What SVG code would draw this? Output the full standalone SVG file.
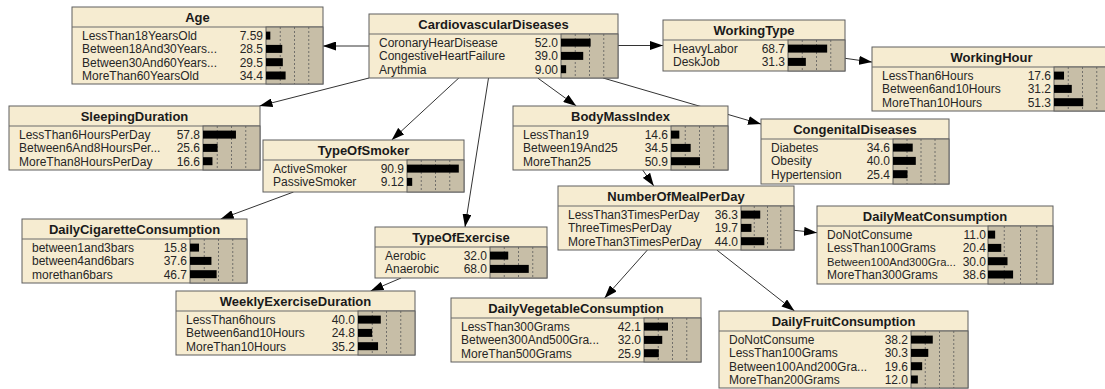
<svg xmlns="http://www.w3.org/2000/svg" width="1105" height="389" viewBox="0 0 1105 389">
  <defs>
    <style>
      .box { fill: #F6ECD1; stroke: #5E5E5E; stroke-width: 1; }
      .sep { stroke: #6A6A6A; stroke-width: 1; }
      .panel { fill: #C7BEA7; stroke: #5E5E5E; stroke-width: 1; }
      .grid { stroke: #5A5A5A; stroke-width: 0.8; stroke-dasharray: 2 2; }
      .bar { fill: #000000; }
      .title { font-family: "Liberation Sans", Arial, sans-serif; font-size: 13px; font-weight: bold; fill: #1A1A1A; text-anchor: middle; }
      .lbl { font-family: "Liberation Sans", Arial, sans-serif; font-size: 12px; fill: #262626; }
      .lbl.narrow { font-size: 11.2px; }
      .val { font-family: "Liberation Sans", Arial, sans-serif; font-size: 12px; fill: #262626; text-anchor: end; }
      .edge { stroke: #333333; stroke-width: 1; fill: none; marker-end: url(#arrow); }
    </style>
    <marker id="arrow" markerUnits="userSpaceOnUse" markerWidth="13" markerHeight="9" refX="13" refY="4.5" orient="auto">
      <path d="M0,0 L13,4.5 L0,9 z" fill="#000000"/>
    </marker>
  </defs>
  <rect width="1105" height="389" fill="#FFFFFF"/>

  <!-- links between nodes, drawn centre to centre and clipped at the boxes -->
  <g id="connectors">
    <line class="edge" x1="369" y1="46" x2="323" y2="46"/>
    <line class="edge" x1="618" y1="45.5" x2="663" y2="45.5"/>
    <line class="edge" x1="845" y1="58.3" x2="872" y2="62.1"/>
    <line class="edge" x1="369" y1="78" x2="259.5" y2="106"/>
    <line class="edge" x1="458.8" y1="78" x2="391.7" y2="140"/>
    <line class="edge" x1="488.5" y1="78" x2="465" y2="227"/>
    <line class="edge" x1="537.7" y1="78" x2="576.3" y2="106"/>
    <line class="edge" x1="603.1" y1="78" x2="761" y2="124.1"/>
    <line class="edge" x1="293.5" y1="192" x2="220.7" y2="219"/>
    <line class="edge" x1="401.1" y1="278" x2="370.6" y2="291"/>
    <line class="edge" x1="642.7" y1="170" x2="653.8" y2="186"/>
    <line class="edge" x1="794" y1="230.3" x2="817" y2="232.7"/>
    <line class="edge" x1="647.4" y1="250" x2="604.6" y2="298"/>
    <line class="edge" x1="716.8" y1="250" x2="794.5" y2="311"/>
  </g>

  <!-- Age -->
  <g id="age" transform="translate(72,7)">
    <rect class="box" width="251" height="77"/>
    <line class="sep" x1="0" y1="20" x2="251" y2="20"/>
    <rect class="panel" x="194" y="20" width="57" height="57"/>
    <line class="grid" x1="208.25" y1="20" x2="208.25" y2="77"/>
    <line class="grid" x1="222.5" y1="20" x2="222.5" y2="77"/>
    <line class="grid" x1="236.75" y1="20" x2="236.75" y2="77"/>
    <text class="title" x="125.5" y="14.5">Age</text>
    <text class="lbl" x="10" y="33.1">LessThan18YearsOld</text>
    <text class="lbl" x="10" y="46.4">Between18And30Years...</text>
    <text class="lbl" x="10" y="59.7">Between30And60Years...</text>
    <text class="lbl" x="10" y="73">MoreThan60YearsOld</text>
    <text class="val" x="191" y="33.1">7.59</text>
    <text class="val" x="191" y="46.4">28.5</text>
    <text class="val" x="191" y="59.7">29.5</text>
    <text class="val" x="191" y="73">34.4</text>
    <rect class="bar" x="194" y="24.6" width="4.33" height="8"/>
    <rect class="bar" x="194" y="37.9" width="16.25" height="8"/>
    <rect class="bar" x="194" y="51.2" width="16.82" height="8"/>
    <rect class="bar" x="194" y="64.5" width="19.61" height="8"/>
  </g>

  <!-- CardiovascularDiseases -->
  <g id="cardiovascular-diseases" transform="translate(369,14)">
    <rect class="box" width="249" height="64"/>
    <line class="sep" x1="0" y1="20" x2="249" y2="20"/>
    <rect class="panel" x="192" y="20" width="57" height="44"/>
    <line class="grid" x1="206.25" y1="20" x2="206.25" y2="64"/>
    <line class="grid" x1="220.5" y1="20" x2="220.5" y2="64"/>
    <line class="grid" x1="234.75" y1="20" x2="234.75" y2="64"/>
    <text class="title" x="124.5" y="14.5">CardiovascularDiseases</text>
    <text class="lbl" x="10" y="33.1">CoronaryHearDisease</text>
    <text class="lbl" x="10" y="46.4">CongestiveHeartFailure</text>
    <text class="lbl" x="10" y="59.7">Arythmia</text>
    <text class="val" x="189" y="33.1">52.0</text>
    <text class="val" x="189" y="46.4">39.0</text>
    <text class="val" x="189" y="59.7">9.00</text>
    <rect class="bar" x="192" y="24.6" width="29.64" height="8"/>
    <rect class="bar" x="192" y="37.9" width="22.23" height="8"/>
    <rect class="bar" x="192" y="51.2" width="5.13" height="8"/>
  </g>

  <!-- WorkingType -->
  <g id="working-type" transform="translate(663,20)">
    <rect class="box" width="182" height="51"/>
    <line class="sep" x1="0" y1="20" x2="182" y2="20"/>
    <rect class="panel" x="125" y="20" width="57" height="31"/>
    <line class="grid" x1="139.25" y1="20" x2="139.25" y2="51"/>
    <line class="grid" x1="153.5" y1="20" x2="153.5" y2="51"/>
    <line class="grid" x1="167.75" y1="20" x2="167.75" y2="51"/>
    <text class="title" x="91" y="14.5">WorkingType</text>
    <text class="lbl" x="10" y="33.1">HeavyLabor</text>
    <text class="lbl" x="10" y="46.4">DeskJob</text>
    <text class="val" x="122" y="33.1">68.7</text>
    <text class="val" x="122" y="46.4">31.3</text>
    <rect class="bar" x="125" y="24.6" width="39.16" height="8"/>
    <rect class="bar" x="125" y="37.9" width="17.84" height="8"/>
  </g>

  <!-- WorkingHour -->
  <g id="working-hour" transform="translate(872,47)">
    <rect class="box" width="239" height="64"/>
    <line class="sep" x1="0" y1="20" x2="239" y2="20"/>
    <rect class="panel" x="182" y="20" width="57" height="44"/>
    <line class="grid" x1="196.25" y1="20" x2="196.25" y2="64"/>
    <line class="grid" x1="210.5" y1="20" x2="210.5" y2="64"/>
    <line class="grid" x1="224.75" y1="20" x2="224.75" y2="64"/>
    <text class="title" x="119.5" y="14.5">WorkingHour</text>
    <text class="lbl" x="10" y="33.1">LessThan6Hours</text>
    <text class="lbl" x="10" y="46.4">Between6and10Hours</text>
    <text class="lbl" x="10" y="59.7">MoreThan10Hours</text>
    <text class="val" x="179" y="33.1">17.6</text>
    <text class="val" x="179" y="46.4">31.2</text>
    <text class="val" x="179" y="59.7">51.3</text>
    <rect class="bar" x="182" y="24.6" width="10.03" height="8"/>
    <rect class="bar" x="182" y="37.9" width="17.78" height="8"/>
    <rect class="bar" x="182" y="51.2" width="29.24" height="8"/>
  </g>

  <!-- SleepingDuration -->
  <g id="sleeping-duration" transform="translate(9,106)">
    <rect class="box" width="251" height="64"/>
    <line class="sep" x1="0" y1="20" x2="251" y2="20"/>
    <rect class="panel" x="194" y="20" width="57" height="44"/>
    <line class="grid" x1="208.25" y1="20" x2="208.25" y2="64"/>
    <line class="grid" x1="222.5" y1="20" x2="222.5" y2="64"/>
    <line class="grid" x1="236.75" y1="20" x2="236.75" y2="64"/>
    <text class="title" x="125.5" y="14.5">SleepingDuration</text>
    <text class="lbl" x="10" y="33.1">LessThan6HoursPerDay</text>
    <text class="lbl" x="10" y="46.4">Between6And8HoursPer...</text>
    <text class="lbl" x="10" y="59.7">MoreThan8HoursPerDay</text>
    <text class="val" x="191" y="33.1">57.8</text>
    <text class="val" x="191" y="46.4">25.6</text>
    <text class="val" x="191" y="59.7">16.6</text>
    <rect class="bar" x="194" y="24.6" width="32.95" height="8"/>
    <rect class="bar" x="194" y="37.9" width="14.59" height="8"/>
    <rect class="bar" x="194" y="51.2" width="9.46" height="8"/>
  </g>

  <!-- TypeOfSmoker -->
  <g id="type-of-smoker" transform="translate(263,140)">
    <rect class="box" width="201" height="52"/>
    <line class="sep" x1="0" y1="20" x2="201" y2="20"/>
    <rect class="panel" x="144" y="20" width="57" height="32"/>
    <line class="grid" x1="158.25" y1="20" x2="158.25" y2="52"/>
    <line class="grid" x1="172.5" y1="20" x2="172.5" y2="52"/>
    <line class="grid" x1="186.75" y1="20" x2="186.75" y2="52"/>
    <text class="title" x="100.5" y="14.5">TypeOfSmoker</text>
    <text class="lbl" x="10" y="33.1">ActiveSmoker</text>
    <text class="lbl" x="10" y="46.4">PassiveSmoker</text>
    <text class="val" x="141" y="33.1">90.9</text>
    <text class="val" x="141" y="46.4">9.12</text>
    <rect class="bar" x="144" y="24.6" width="51.81" height="8"/>
    <rect class="bar" x="144" y="37.9" width="5.2" height="8"/>
  </g>

  <!-- BodyMassIndex -->
  <g id="body-mass-index" transform="translate(513,106)">
    <rect class="box" width="215" height="64"/>
    <line class="sep" x1="0" y1="20" x2="215" y2="20"/>
    <rect class="panel" x="158" y="20" width="57" height="44"/>
    <line class="grid" x1="172.25" y1="20" x2="172.25" y2="64"/>
    <line class="grid" x1="186.5" y1="20" x2="186.5" y2="64"/>
    <line class="grid" x1="200.75" y1="20" x2="200.75" y2="64"/>
    <text class="title" x="107.5" y="14.5">BodyMassIndex</text>
    <text class="lbl" x="10" y="33.1">LessThan19</text>
    <text class="lbl" x="10" y="46.4">Between19And25</text>
    <text class="lbl" x="10" y="59.7">MoreThan25</text>
    <text class="val" x="155" y="33.1">14.6</text>
    <text class="val" x="155" y="46.4">34.5</text>
    <text class="val" x="155" y="59.7">50.9</text>
    <rect class="bar" x="158" y="24.6" width="8.32" height="8"/>
    <rect class="bar" x="158" y="37.9" width="19.67" height="8"/>
    <rect class="bar" x="158" y="51.2" width="29.01" height="8"/>
  </g>

  <!-- CongenitalDiseases -->
  <g id="congenital-diseases" transform="translate(761,119)">
    <rect class="box" width="188" height="65"/>
    <line class="sep" x1="0" y1="20" x2="188" y2="20"/>
    <rect class="panel" x="132" y="20" width="56" height="45"/>
    <line class="grid" x1="146" y1="20" x2="146" y2="65"/>
    <line class="grid" x1="160" y1="20" x2="160" y2="65"/>
    <line class="grid" x1="174" y1="20" x2="174" y2="65"/>
    <text class="title" x="94" y="14.5">CongenitalDiseases</text>
    <text class="lbl" x="10" y="33.1">Diabetes</text>
    <text class="lbl" x="10" y="46.4">Obesity</text>
    <text class="lbl" x="10" y="59.7">Hypertension</text>
    <text class="val" x="129" y="33.1">34.6</text>
    <text class="val" x="129" y="46.4">40.0</text>
    <text class="val" x="129" y="59.7">25.4</text>
    <rect class="bar" x="132" y="24.6" width="19.72" height="8"/>
    <rect class="bar" x="132" y="37.9" width="22.8" height="8"/>
    <rect class="bar" x="132" y="51.2" width="14.48" height="8"/>
  </g>

  <!-- DailyCigaretteConsumption -->
  <g id="daily-cigarette-consumption" transform="translate(22,219)">
    <rect class="box" width="225" height="64"/>
    <line class="sep" x1="0" y1="20" x2="225" y2="20"/>
    <rect class="panel" x="168" y="20" width="57" height="44"/>
    <line class="grid" x1="182.25" y1="20" x2="182.25" y2="64"/>
    <line class="grid" x1="196.5" y1="20" x2="196.5" y2="64"/>
    <line class="grid" x1="210.75" y1="20" x2="210.75" y2="64"/>
    <text class="title" x="112.5" y="14.5">DailyCigaretteConsumption</text>
    <text class="lbl" x="10" y="33.1">between1and3bars</text>
    <text class="lbl" x="10" y="46.4">between4and6bars</text>
    <text class="lbl" x="10" y="59.7">morethan6bars</text>
    <text class="val" x="165" y="33.1">15.8</text>
    <text class="val" x="165" y="46.4">37.6</text>
    <text class="val" x="165" y="59.7">46.7</text>
    <rect class="bar" x="168" y="24.6" width="9.01" height="8"/>
    <rect class="bar" x="168" y="37.9" width="21.43" height="8"/>
    <rect class="bar" x="168" y="51.2" width="26.62" height="8"/>
  </g>

  <!-- TypeOfExercise -->
  <g id="type-of-exercise" transform="translate(375,227)">
    <rect class="box" width="172" height="51"/>
    <line class="sep" x1="0" y1="20" x2="172" y2="20"/>
    <rect class="panel" x="115" y="20" width="57" height="31"/>
    <line class="grid" x1="129.25" y1="20" x2="129.25" y2="51"/>
    <line class="grid" x1="143.5" y1="20" x2="143.5" y2="51"/>
    <line class="grid" x1="157.75" y1="20" x2="157.75" y2="51"/>
    <text class="title" x="86" y="14.5">TypeOfExercise</text>
    <text class="lbl" x="10" y="33.1">Aerobic</text>
    <text class="lbl" x="10" y="46.4">Anaerobic</text>
    <text class="val" x="112" y="33.1">32.0</text>
    <text class="val" x="112" y="46.4">68.0</text>
    <rect class="bar" x="115" y="24.6" width="18.24" height="8"/>
    <rect class="bar" x="115" y="37.9" width="38.76" height="8"/>
  </g>

  <!-- WeeklyExerciseDuration -->
  <g id="weekly-exercise-duration" transform="translate(176,291)">
    <rect class="box" width="239" height="64"/>
    <line class="sep" x1="0" y1="20" x2="239" y2="20"/>
    <rect class="panel" x="182" y="20" width="57" height="44"/>
    <line class="grid" x1="196.25" y1="20" x2="196.25" y2="64"/>
    <line class="grid" x1="210.5" y1="20" x2="210.5" y2="64"/>
    <line class="grid" x1="224.75" y1="20" x2="224.75" y2="64"/>
    <text class="title" x="119.5" y="14.5">WeeklyExerciseDuration</text>
    <text class="lbl" x="10" y="33.1">LessThan6hours</text>
    <text class="lbl" x="10" y="46.4">Between6and10Hours</text>
    <text class="lbl" x="10" y="59.7">MoreThan10Hours</text>
    <text class="val" x="179" y="33.1">40.0</text>
    <text class="val" x="179" y="46.4">24.8</text>
    <text class="val" x="179" y="59.7">35.2</text>
    <rect class="bar" x="182" y="24.6" width="22.8" height="8"/>
    <rect class="bar" x="182" y="37.9" width="14.14" height="8"/>
    <rect class="bar" x="182" y="51.2" width="20.06" height="8"/>
  </g>

  <!-- NumberOfMealPerDay -->
  <g id="number-of-meal-per-day" transform="translate(558,186)">
    <rect class="box" width="236" height="64"/>
    <line class="sep" x1="0" y1="20" x2="236" y2="20"/>
    <rect class="panel" x="183" y="20" width="53" height="44"/>
    <line class="grid" x1="196.25" y1="20" x2="196.25" y2="64"/>
    <line class="grid" x1="209.5" y1="20" x2="209.5" y2="64"/>
    <line class="grid" x1="222.75" y1="20" x2="222.75" y2="64"/>
    <text class="title" x="118" y="14.5">NumberOfMealPerDay</text>
    <text class="lbl" x="10" y="33.1">LessThan3TimesPerDay</text>
    <text class="lbl" x="10" y="46.4">ThreeTimesPerDay</text>
    <text class="lbl" x="10" y="59.7">MoreThan3TimesPerDay</text>
    <text class="val" x="180" y="33.1">36.3</text>
    <text class="val" x="180" y="46.4">19.7</text>
    <text class="val" x="180" y="59.7">44.0</text>
    <rect class="bar" x="183" y="24.6" width="19.24" height="8"/>
    <rect class="bar" x="183" y="37.9" width="10.44" height="8"/>
    <rect class="bar" x="183" y="51.2" width="23.32" height="8"/>
  </g>

  <!-- DailyMeatConsumption -->
  <g id="daily-meat-consumption" transform="translate(817,206)">
    <rect class="box" width="236" height="78"/>
    <line class="sep" x1="0" y1="20" x2="236" y2="20"/>
    <rect class="panel" x="171" y="20" width="65" height="58"/>
    <line class="grid" x1="187.25" y1="20" x2="187.25" y2="78"/>
    <line class="grid" x1="203.5" y1="20" x2="203.5" y2="78"/>
    <line class="grid" x1="219.75" y1="20" x2="219.75" y2="78"/>
    <text class="title" x="118" y="14.5">DailyMeatConsumption</text>
    <text class="lbl" x="10" y="33.1">DoNotConsume</text>
    <text class="lbl" x="10" y="46.4">LessThan100Grams</text>
    <text class="lbl narrow" x="10" y="59.7">Between100And300Gra...</text>
    <text class="lbl" x="10" y="73">MoreThan300Grams</text>
    <text class="val" x="169" y="33.1">11.0</text>
    <text class="val" x="169" y="46.4">20.4</text>
    <text class="val" x="169" y="59.7">30.0</text>
    <text class="val" x="169" y="73">38.6</text>
    <rect class="bar" x="171" y="24.6" width="7.15" height="8"/>
    <rect class="bar" x="171" y="37.9" width="13.26" height="8"/>
    <rect class="bar" x="171" y="51.2" width="19.5" height="8"/>
    <rect class="bar" x="171" y="64.5" width="25.09" height="8"/>
  </g>

  <!-- DailyVegetableConsumption -->
  <g id="daily-vegetable-consumption" transform="translate(451,298)">
    <rect class="box" width="250" height="64"/>
    <line class="sep" x1="0" y1="20" x2="250" y2="20"/>
    <rect class="panel" x="193" y="20" width="57" height="44"/>
    <line class="grid" x1="207.25" y1="20" x2="207.25" y2="64"/>
    <line class="grid" x1="221.5" y1="20" x2="221.5" y2="64"/>
    <line class="grid" x1="235.75" y1="20" x2="235.75" y2="64"/>
    <text class="title" x="125" y="14.5">DailyVegetableConsumption</text>
    <text class="lbl" x="10" y="33.1">LessThan300Grams</text>
    <text class="lbl" x="10" y="46.4">Between300And500Gra...</text>
    <text class="lbl" x="10" y="59.7">MoreThan500Grams</text>
    <text class="val" x="190" y="33.1">42.1</text>
    <text class="val" x="190" y="46.4">32.0</text>
    <text class="val" x="190" y="59.7">25.9</text>
    <rect class="bar" x="193" y="24.6" width="24" height="8"/>
    <rect class="bar" x="193" y="37.9" width="18.24" height="8"/>
    <rect class="bar" x="193" y="51.2" width="14.76" height="8"/>
  </g>

  <!-- DailyFruitConsumption -->
  <g id="daily-fruit-consumption" transform="translate(719,311)">
    <rect class="box" width="249" height="77"/>
    <line class="sep" x1="0" y1="20" x2="249" y2="20"/>
    <rect class="panel" x="192" y="20" width="57" height="57"/>
    <line class="grid" x1="206.25" y1="20" x2="206.25" y2="77"/>
    <line class="grid" x1="220.5" y1="20" x2="220.5" y2="77"/>
    <line class="grid" x1="234.75" y1="20" x2="234.75" y2="77"/>
    <text class="title" x="124.5" y="14.5">DailyFruitConsumption</text>
    <text class="lbl" x="10" y="33.1">DoNotConsume</text>
    <text class="lbl" x="10" y="46.4">LessThan100Grams</text>
    <text class="lbl" x="10" y="59.7">Between100And200Gra...</text>
    <text class="lbl" x="10" y="73">MoreThan200Grams</text>
    <text class="val" x="189" y="33.1">38.2</text>
    <text class="val" x="189" y="46.4">30.3</text>
    <text class="val" x="189" y="59.7">19.6</text>
    <text class="val" x="189" y="73">12.0</text>
    <rect class="bar" x="192" y="24.6" width="21.77" height="8"/>
    <rect class="bar" x="192" y="37.9" width="17.27" height="8"/>
    <rect class="bar" x="192" y="51.2" width="11.17" height="8"/>
    <rect class="bar" x="192" y="64.5" width="6.84" height="8"/>
  </g>
</svg>
